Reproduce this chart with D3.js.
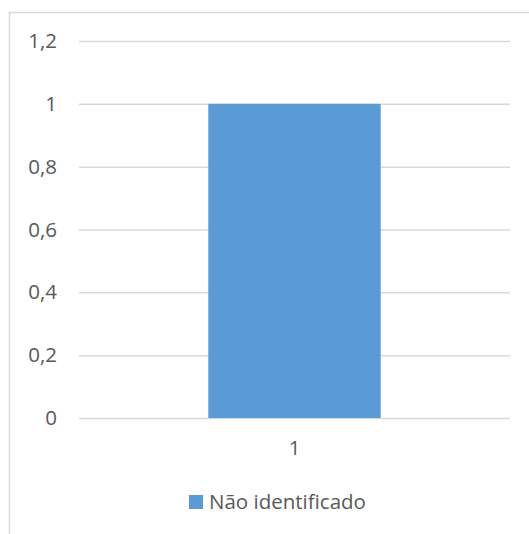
<!DOCTYPE html>
<html>
<head>
<meta charset="utf-8">
<script src="https://cdn.jsdelivr.net/npm/d3@7"></script>
<style>
  body { margin: 0; background: #fff; }
  text { font-family: "Open Sans", "Noto Sans", sans-serif; fill: #595959; }
</style>
</head>
<body>
<div id="chart"></div>
<script>
const categories = ['1'];
const seriesName = 'Não identificado';
const seriesValues = [1];
const yTicks = [0, 0.2, 0.4, 0.6, 0.8, 1, 1.2];

const width = 529;
const height = 534;
const margin = { top: 41, right: 19, bottom: 116, left: 79 };
const barColor = '#5b9bd5';
const gridColor = '#d9d9d9';
const fontSize = 20.5;

const svg = d3.select('#chart')
    .append('svg')
    .attr('width', width)
    .attr('height', height);

// chart frame
svg.append('rect')
    .attr('x', 9.5)
    .attr('y', 12.5)
    .attr('width', width + 20)
    .attr('height', height + 20)
    .attr('fill', 'none')
    .attr('stroke', gridColor)
    .attr('stroke-width', 1.5);

const x = d3.scaleBand()
    .domain(categories)
    .range([margin.left, width - margin.right])
    .paddingInner(0.6)
    .paddingOuter(0.3);

const y = d3.scaleLinear()
    .domain([0, 1.2])
    .range([height - margin.bottom, margin.top]);

const fmt = d => d3.format('~g')(d).replace('.', ',');

// gridlines + y labels
const yAxis = svg.append('g')
    .attr('transform', `translate(${margin.left},0)`)
    .call(d3.axisLeft(y)
        .tickValues(yTicks)
        .tickSize(-(width - margin.left - margin.right))
        .tickPadding(22)
        .tickFormat(fmt));
yAxis.select('.domain').remove();
yAxis.selectAll('.tick line')
    .attr('stroke', gridColor)
    .attr('stroke-width', 1.5);
yAxis.selectAll('.tick text')
    .attr('font-size', fontSize)
    .attr('fill', '#595959');

// bars
svg.append('g')
    .selectAll('rect')
    .data(seriesValues)
    .join('rect')
    .attr('x', (d, i) => x(categories[i]))
    .attr('y', d => y(d))
    .attr('width', x.bandwidth())
    .attr('height', d => y(0) - y(d))
    .attr('fill', barColor);

// x labels
const xAxis = svg.append('g')
    .attr('transform', `translate(0,${y(0)})`)
    .call(d3.axisBottom(x).tickSize(0).tickPadding(22));
xAxis.select('.domain').remove();
xAxis.selectAll('.tick text')
    .attr('font-size', fontSize)
    .attr('fill', '#595959');

// legend
const legend = svg.append('g').attr('transform', 'translate(189,495)');
legend.append('rect')
    .attr('width', 14)
    .attr('height', 14)
    .attr('fill', barColor);
legend.append('text')
    .attr('x', 20)
    .attr('y', 7)
    .attr('dy', '0.35em')
    .attr('font-size', fontSize)
    .text(seriesName);
</script>
</body>
</html>
